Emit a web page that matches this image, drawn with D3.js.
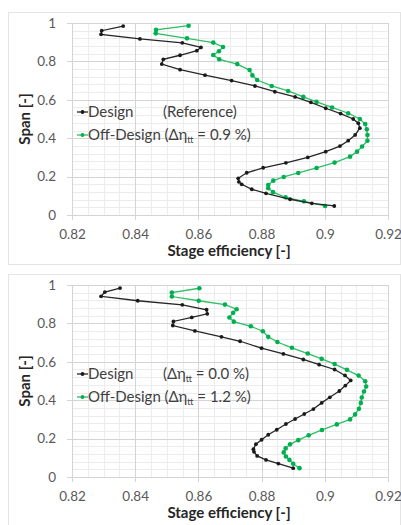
<!DOCTYPE html>
<html>
<head>
<meta charset="utf-8">
<script src="https://cdn.jsdelivr.net/npm/d3@7"></script>
<style>
  html, body { margin: 0; padding: 0; background: #fff; }
  svg { display: block; font-family: Lato, "Open Sans", sans-serif; }
</style>
</head>
<body>
<svg id="chart" width="401" height="525"></svg>
<script>
// Spanwise stage efficiency, design vs. off-design (two cases)
const xTicks = [0.82, 0.84, 0.86, 0.88, 0.9, 0.92];
const xTickLabels = ["0.82", "0.84", "0.86", "0.88", "0.9", "0.92"];
const yTicks = [0, 0.2, 0.4, 0.6, 0.8, 1];
const yTickLabels = ["0", "0.2", "0.4", "0.6", "0.8", "1"];
const xTitle = "Stage efficiency [-]";
const yTitle = "Span [-]";

// Case 1: reference design
const designEff1 = [0.8362, 0.8294, 0.8292, 0.8415, 0.8549, 0.8608, 0.8595, 0.8542, 0.8489, 0.8484, 0.8542, 0.8621, 0.8705, 0.8779, 0.8842, 0.8906, 0.8956, 0.9003, 0.9050, 0.9090, 0.9106, 0.9111, 0.9096, 0.9074, 0.9048, 0.9003, 0.8946, 0.8877, 0.8805, 0.8753, 0.8726, 0.8728, 0.8737, 0.8769, 0.8814, 0.8890, 0.8959, 0.9030];
const designSpan1 = [0.984, 0.960, 0.941, 0.917, 0.897, 0.873, 0.856, 0.832, 0.811, 0.786, 0.757, 0.728, 0.700, 0.672, 0.642, 0.615, 0.587, 0.556, 0.528, 0.500, 0.478, 0.452, 0.417, 0.387, 0.359, 0.330, 0.300, 0.272, 0.246, 0.220, 0.191, 0.173, 0.160, 0.134, 0.113, 0.082, 0.061, 0.047];
const offEff1 = [0.8569, 0.8466, 0.8465, 0.8564, 0.8647, 0.8678, 0.8665, 0.8647, 0.8666, 0.8723, 0.8762, 0.8771, 0.8786, 0.8832, 0.8884, 0.8932, 0.8974, 0.9023, 0.9074, 0.9111, 0.9128, 0.9133, 0.9135, 0.9135, 0.9118, 0.9102, 0.9080, 0.9031, 0.8974, 0.8916, 0.8870, 0.8837, 0.8821, 0.8821, 0.8836, 0.8876, 0.8934, 0.9001];
const offSpan1 = [0.986, 0.964, 0.946, 0.920, 0.898, 0.875, 0.853, 0.833, 0.811, 0.786, 0.755, 0.727, 0.703, 0.672, 0.646, 0.615, 0.589, 0.560, 0.530, 0.500, 0.474, 0.446, 0.417, 0.387, 0.357, 0.330, 0.304, 0.273, 0.245, 0.219, 0.198, 0.179, 0.156, 0.139, 0.119, 0.092, 0.071, 0.047];

// Case 2
const designEff2 = [0.8352, 0.8304, 0.8292, 0.8408, 0.8549, 0.8626, 0.8628, 0.8579, 0.8521, 0.8519, 0.8589, 0.8673, 0.8732, 0.8800, 0.8869, 0.8932, 0.8982, 0.9031, 0.9064, 0.9082, 0.9065, 0.9046, 0.9016, 0.8990, 0.8964, 0.8935, 0.8906, 0.8877, 0.8848, 0.8821, 0.8800, 0.8782, 0.8774, 0.8776, 0.8786, 0.8814, 0.8853, 0.8900];
const designSpan2 = [0.984, 0.963, 0.941, 0.918, 0.897, 0.871, 0.850, 0.831, 0.810, 0.789, 0.761, 0.730, 0.707, 0.671, 0.641, 0.612, 0.585, 0.560, 0.529, 0.503, 0.476, 0.448, 0.415, 0.386, 0.354, 0.328, 0.302, 0.276, 0.246, 0.220, 0.194, 0.171, 0.145, 0.131, 0.110, 0.089, 0.070, 0.046];
const offEff2 = [0.8603, 0.8516, 0.8516, 0.8601, 0.8684, 0.8721, 0.8710, 0.8698, 0.8712, 0.8766, 0.8804, 0.8821, 0.8850, 0.8896, 0.8946, 0.8990, 0.9031, 0.9070, 0.9107, 0.9128, 0.9131, 0.9124, 0.9117, 0.9114, 0.9108, 0.9096, 0.9080, 0.9038, 0.8991, 0.8949, 0.8916, 0.8890, 0.8876, 0.8870, 0.8877, 0.8888, 0.8900, 0.8920];
const offSpan2 = [0.983, 0.961, 0.940, 0.918, 0.898, 0.874, 0.855, 0.831, 0.809, 0.785, 0.759, 0.730, 0.703, 0.673, 0.643, 0.615, 0.588, 0.558, 0.528, 0.499, 0.471, 0.445, 0.414, 0.386, 0.355, 0.326, 0.300, 0.274, 0.245, 0.217, 0.192, 0.170, 0.149, 0.128, 0.107, 0.089, 0.069, 0.046];

// Legend notes per case
const designNotes = ["(Reference)", null];
const designDelta = [null, "0.0 %"];
const offDelta = ["0.9 %", "1.2 %"];

const svg = d3.select("#chart");
const BLACK = "#1a1a1a";
const GREEN = "#00B050";

function drawPanel(top, designEff, designSpan, offEff, offSpan, idx) {
  const left = 72, right = 388;
  const plotTop = top + 11, plotBottom = top + 203;

  const g = svg.append("g");

  // chart area border
  g.append("rect")
    .attr("x", 8.5).attr("y", top + 0.5)
    .attr("width", 392).attr("height", 252)
    .attr("fill", "none").attr("stroke", "#e4e4e4").attr("stroke-width", 1);

  const x = d3.scaleLinear().domain([0.82, 0.92]).range([left, right]);
  const y = d3.scaleLinear().domain([0, 1]).range([plotBottom, plotTop]);

  // minor grid
  const minorX = d3.range(0, 21).map(i => 0.82 + i * 0.005);
  const minorY = d3.range(0, 26).map(i => i * 0.04);
  g.append("g").selectAll("line").data(minorX).join("line")
    .attr("x1", d => Math.round(x(d)) + 0.5).attr("x2", d => Math.round(x(d)) + 0.5)
    .attr("y1", plotTop).attr("y2", plotBottom)
    .attr("stroke", "#ececec").attr("stroke-width", 1);
  g.append("g").selectAll("line").data(minorY).join("line")
    .attr("y1", d => Math.round(y(d)) + 0.5).attr("y2", d => Math.round(y(d)) + 0.5)
    .attr("x1", left).attr("x2", right)
    .attr("stroke", "#ececec").attr("stroke-width", 1);

  // major grid with outside tick stubs
  g.append("g").selectAll("line").data(xTicks).join("line")
    .attr("x1", d => Math.round(x(d)) + 0.5).attr("x2", d => Math.round(x(d)) + 0.5)
    .attr("y1", plotTop).attr("y2", plotBottom + 5)
    .attr("stroke", "#d4d4d4").attr("stroke-width", 1);
  g.append("g").selectAll("line").data(yTicks).join("line")
    .attr("y1", d => Math.round(y(d)) + 0.5).attr("y2", d => Math.round(y(d)) + 0.5)
    .attr("x1", left - 5).attr("x2", right)
    .attr("stroke", "#d4d4d4").attr("stroke-width", 1);

  // tick labels via d3 axes
  const xAxis = d3.axisBottom(x).tickValues(xTicks)
    .tickFormat((d, i) => xTickLabels[i]).tickSize(0).tickPadding(14);
  const gx = g.append("g").attr("transform", `translate(0,${plotBottom})`).call(xAxis);
  gx.select(".domain").remove();
  gx.selectAll("text").attr("fill", "#595959").style("font-size", "13.5px")
    .style("font-family", "Lato, sans-serif");

  const yAxis = d3.axisLeft(y).tickValues(yTicks)
    .tickFormat((d, i) => yTickLabels[i]).tickSize(0).tickPadding(16);
  const gy = g.append("g").attr("transform", `translate(${left},0)`).call(yAxis);
  gy.select(".domain").remove();
  gy.selectAll("text").attr("fill", "#595959").style("font-size", "13.5px")
    .style("font-family", "Lato, sans-serif");

  // axis titles
  g.append("text")
    .attr("x", (left + right) / 2 - 1).attr("y", plotBottom + 41)
    .attr("text-anchor", "middle")
    .attr("font-weight", "bold").attr("font-size", 15).attr("fill", "#262626")
    .text(xTitle);
  g.append("text")
    .attr("transform", `translate(30,${(plotTop + plotBottom) / 2}) rotate(-90)`)
    .attr("text-anchor", "middle")
    .attr("font-weight", "bold").attr("font-size", 15).attr("fill", "#262626")
    .text(yTitle);

  // series
  const line = d3.line().x(d => x(d[0])).y(d => y(d[1]));
  const design = designEff.map((v, i) => [v, designSpan[i]]);
  const off = offEff.map((v, i) => [v, offSpan[i]]);

  g.append("path").datum(off).attr("d", line)
    .attr("fill", "none").attr("stroke", "#2fbf64").attr("stroke-width", 1.3);
  g.append("g").selectAll("circle").data(off).join("circle")
    .attr("cx", d => x(d[0])).attr("cy", d => y(d[1])).attr("r", 2.3)
    .attr("fill", GREEN);

  g.append("path").datum(design).attr("d", line)
    .attr("fill", "none").attr("stroke", "#262626").attr("stroke-width", 1.3);
  g.append("g").selectAll("circle").data(design).join("circle")
    .attr("cx", d => x(d[0])).attr("cy", d => y(d[1])).attr("r", 1.9)
    .attr("fill", BLACK);

  // legend
  const rows = [
    { color: "#262626", fill: BLACK, y: plotTop + 89 },
    { color: "#2fbf64", fill: GREEN, y: plotTop + 112 }
  ];
  rows.forEach(r => {
    g.append("line").attr("x1", 77).attr("x2", 88).attr("y1", r.y).attr("y2", r.y)
      .attr("stroke", r.color).attr("stroke-width", 1.3);
    g.append("circle").attr("cx", 82.5).attr("cy", r.y).attr("r", 1.9).attr("fill", r.fill);
  });

  const fs = 15;
  function deltaText(xPos, yPos, prefix, val) {
    const t = g.append("text").attr("x", xPos).attr("y", yPos + 5)
      .attr("font-size", fs).attr("fill", "#404040");
    t.append("tspan").text(prefix + "(\u0394\u03b7");
    t.append("tspan").attr("font-size", fs * 0.6).attr("dy", 3).text("tt");
    t.append("tspan").attr("dy", -3).text(" = " + val + ")");
    return t;
  }

  g.append("text").attr("x", 88).attr("y", rows[0].y + 5)
    .attr("font-size", fs).attr("fill", "#404040").text("Design");
  if (designNotes[idx]) {
    g.append("text").attr("x", 163).attr("y", rows[0].y + 5)
      .attr("font-size", fs).attr("fill", "#404040").text(designNotes[idx]);
  }
  if (designDelta[idx]) {
    deltaText(163, rows[0].y, "", designDelta[idx]);
  }
  deltaText(88, rows[1].y, "Off-Design ", offDelta[idx]);
}

drawPanel(12, designEff1, designSpan1, offEff1, offSpan1, 0);
drawPanel(274, designEff2, designSpan2, offEff2, offSpan2, 1);
</script>
</body>
</html>
